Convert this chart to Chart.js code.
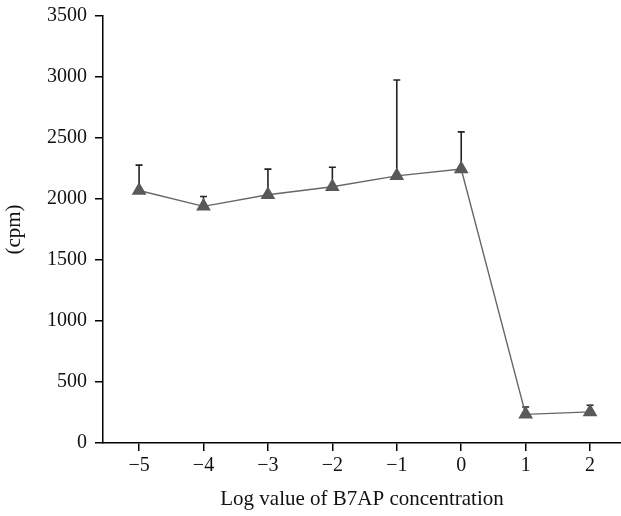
<!DOCTYPE html>
<html>
<head>
<meta charset="utf-8">
<script src="https://cdn.jsdelivr.net/npm/chart.js@4/dist/chart.umd.min.js"></script>
<style>
html,body{margin:0;padding:0;background:#fff;overflow:hidden;}
#wrap{width:621px;height:516px;position:relative;}
canvas{display:block;}
</style>
</head>
<body>
<div id="wrap"><canvas id="c" width="621" height="516"></canvas></div>
<script>
const logConc = [-5, -4, -3, -2, -1, 0, 1, 2];
const cpmMean = [2070, 1940, 2035, 2100, 2190, 2245, 235, 255];
const cpmErr = [208, 80, 210, 160, 785, 305, 60, 55];
const xTickValues = [-5, -4, -3, -2, -1, 0, 1, 2];
const yTickValues = [0, 500, 1000, 1500, 2000, 2500, 3000, 3500];
const xTitle = 'Log value of B7AP concentration';
const yTitle = '(cpm)';

const FONT = 'Liberation Serif';

const errorBars = {
  id: 'errorBars',
  beforeDatasetsDraw(chart) {
    const ctx = chart.ctx;
    const xs = chart.scales.x, ys = chart.scales.y;
    ctx.save();
    ctx.strokeStyle = '#222';
    ctx.lineWidth = 1.6;
    logConc.forEach((xv, i) => {
      const px = xs.getPixelForValue(xv);
      const py = ys.getPixelForValue(cpmMean[i]);
      const pt = ys.getPixelForValue(cpmMean[i] + cpmErr[i]);
      ctx.beginPath();
      ctx.moveTo(px, py);
      ctx.lineTo(px, pt);
      ctx.moveTo(px - 3.5, pt);
      ctx.lineTo(px + 3.5, pt);
      ctx.stroke();
    });
    ctx.restore();
  }
};
const zeroPad = s => { s.paddingLeft = 0; s.paddingRight = 0; s.paddingTop = 0; s.paddingBottom = 0; };

new Chart(document.getElementById('c'), {
  type: 'line',
  data: {
    datasets: [{
      data: logConc.map((x, i) => ({x: x, y: cpmMean[i]})),
      borderColor: '#666',
      borderWidth: 1.4,
      pointStyle: 'triangle',
      pointRadius: 8.5,
      pointBackgroundColor: '#595959',
      pointBorderColor: '#595959',
      pointBorderWidth: 0,
      tension: 0,
      fill: false,
      clip: false
    }]
  },
  options: {
    responsive: false,
    animation: false,
    layout: {autoPadding: false, padding: {top: 16, right: 0, left: 0, bottom: 0}},
    plugins: {legend: {display: false}, tooltip: {enabled: false}},
    scales: {
      x: {
        type: 'linear',
        min: -5.56,
        max: 2.48,
        afterBuildTicks: s => { s.ticks = xTickValues.map(v => ({value: v})); },
        afterFit: s => { s.height = 73; zeroPad(s); },
        grid: {drawOnChartArea: false, drawTicks: true, tickLength: 8, color: '#000', lineWidth: 1.5},
        border: {color: '#000', width: 1.5},
        ticks: {
          color: '#111',
          font: {family: FONT, size: 20},
          padding: 3,
          maxRotation: 0,
          callback: v => (v < 0 ? '\u2212' + Math.abs(v) : String(v))
        },
        title: {display: true, text: xTitle, color: '#111', font: {family: FONT, size: 21}, padding: {top: 2}}
      },
      y: {
        type: 'linear',
        min: 0,
        max: 3500,
        afterBuildTicks: s => { s.ticks = yTickValues.map(v => ({value: v})); },
        afterFit: s => { s.width = 103; zeroPad(s); },
        grid: {drawOnChartArea: false, drawTicks: true, tickLength: 8, color: '#000', lineWidth: 1.5},
        border: {color: '#000', width: 1.5},
        ticks: {color: '#111', font: {family: FONT, size: 20}, padding: 8, callback: v => String(v)},
        title: {display: true, text: yTitle, color: '#111', font: {family: FONT, size: 21}, padding: {bottom: 0, top: 2}}
      }
    }
  },
  plugins: [errorBars]
});
</script>
</body>
</html>
